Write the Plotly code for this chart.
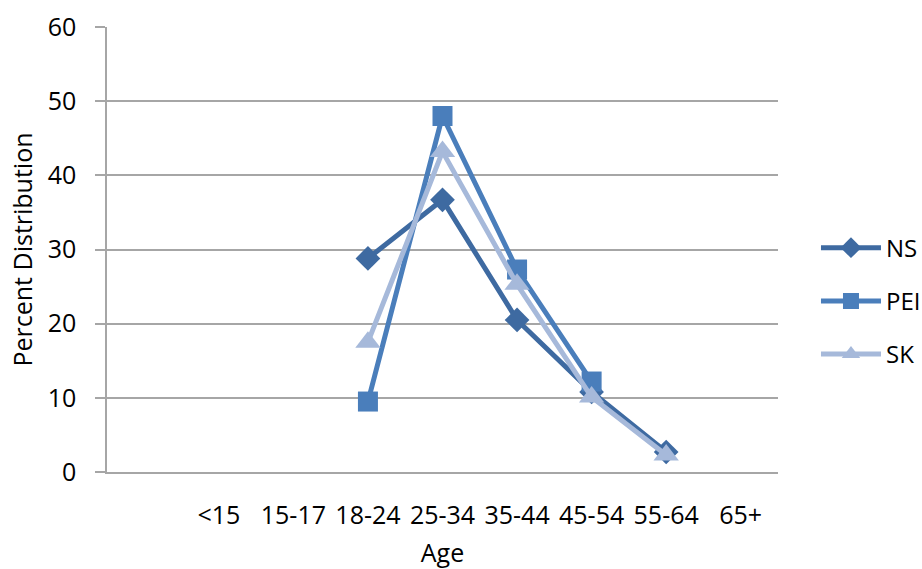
import plotly.graph_objects as go

categories = [" ", "<15", "15-17", "18-24", "25-34", "35-44", "45-54", "55-64", "65+"]
ns_values = [None, None, None, 28.8, 36.7, 20.5, 10.8, 2.7, None]
pei_values = [None, None, None, 9.5, 48.0, 27.3, 12.2, None, None]
sk_values = [None, None, None, 17.5, 43.2, 25.3, 10.1, 2.3, None]
series_names = ["NS", "PEI", "SK"]
y_ticks = [0, 10, 20, 30, 40, 50, 60]

FONT = "Open Sans, DejaVu Sans, sans-serif"
GRID = "#A6A6A6"
FS = 25

styles = [
    ("#3E6AA1", "diamond", 19),
    ("#4A7EBB", "square", 20),
    ("#A6B9DA", "triangle-up", 22),
]

fig = go.Figure()
for name, vals, (color, sym, size) in zip(series_names, [ns_values, pei_values, sk_values], styles):
    fig.add_trace(go.Scatter(
        x=categories, y=vals, name=name, mode="lines+markers",
        line=dict(color=color, width=5),
        marker=dict(symbol=sym, size=size, color=color),
        connectgaps=False, legendgroup=name,
    ))

fig.update_layout(
    width=922, height=569,
    margin=dict(l=107, r=144, t=27, b=97, autoexpand=False),
    paper_bgcolor="white", plot_bgcolor="white",
    font=dict(family=FONT, size=FS, color="black"),
    showlegend=True,
    legend=dict(x=1.0566, y=0.384, xanchor="left", yanchor="middle",
                font=dict(size=24), tracegroupgap=19, itemwidth=60,
                bgcolor="rgba(0,0,0,0)"),
    xaxis=dict(
        type="category", categoryorder="array", categoryarray=categories,
        range=[-0.5, len(categories) - 0.5], automargin=False,
        showgrid=False, showline=True, linecolor=GRID, linewidth=1.5,
        ticks="", ticklabelstandoff=20,
        title=dict(text="Age", standoff=15, font=dict(size=FS)),
        tickfont=dict(size=FS),
    ),
    yaxis=dict(
        range=[0, 60], tickvals=y_ticks, automargin=False,
        showgrid=True, gridcolor=GRID, gridwidth=1.5,
        showline=True, linecolor=GRID, linewidth=1.5,
        ticks="outside", ticklen=10, tickcolor=GRID, tickwidth=1.5,
        ticklabelstandoff=14, zeroline=False,
        title=dict(text="Percent Distribution", standoff=8, font=dict(size=FS)),
        tickfont=dict(size=FS),
    ),
)

# remove the browser's default 8px page margin so the figure fills the window exactly
fig.write_html("out.html", config={"displayModeBar": False},
               post_script="document.body.style.margin='0';")
